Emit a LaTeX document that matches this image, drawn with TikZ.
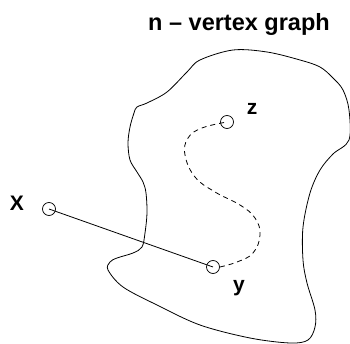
\documentclass[tikz,border=0pt]{standalone}
\usepackage{fontspec}
\setmainfont{Liberation Sans}
\begin{document}
\begin{tikzpicture}[x=1pt,y=-1pt,
  vertex/.style={circle,draw,line width=0.7pt,minimum size=13pt,inner sep=0pt},
  lbl/.style={font=\fontsize{21}{21}\selectfont\bfseries,inner sep=0pt},
  edgeline/.style={line width=0.8pt},
  pathline/.style={line width=0.8pt,dash pattern=on 5pt off 4pt}]
\useasboundingbox (0,0) rectangle (350,344);
\node[font=\fontsize{23.5}{23.5}\selectfont\bfseries,anchor=base,inner sep=0pt] (title) at (239,31) {n -- vertex graph};
% blob
\draw[line width=0.8pt] plot[smooth cycle,tension=0.55] coordinates {
 (200,60) (233,50) (267,52) (300,60) (320,67) (333,78) (343,90) (349,110) (349,140)
 (333,154) (320,170) (310,193) (303,227) (303,260) (307,283) (315,310) (315,327)
 (308,340) (290,343) (250,338) (200,325) (157,305) (123,287) (108,270) (110,262)
 (117,258) (133,253) (142,247) (145,233) (147,213) (146,193) (143,182) (137,172)
 (130,160) (128,143) (130,127) (134,113) (137,107) (147,103) (167,92) (187,72)};
\node[vertex] (X) at (49,209) {};
\node[vertex] (Z) at (227,122) {};
\node[vertex] (Y) at (213,267) {};
\node[lbl] (xl) at (17,203) {X};
\node[lbl] (zl) at (252,109) {z};
\node[lbl] (yl) at (239,288) {y};
\draw[edgeline] (X.center) -- (Y.center);
\draw[pathline] plot[smooth,tension=0.7] coordinates {
 (Y.east) (237,262) (253,253) (260,235) (255,218) (240,205) (215,192) (195,177)
 (185,155) (188,138) (202,128) (Z.center)};
\end{tikzpicture}
\end{document}
